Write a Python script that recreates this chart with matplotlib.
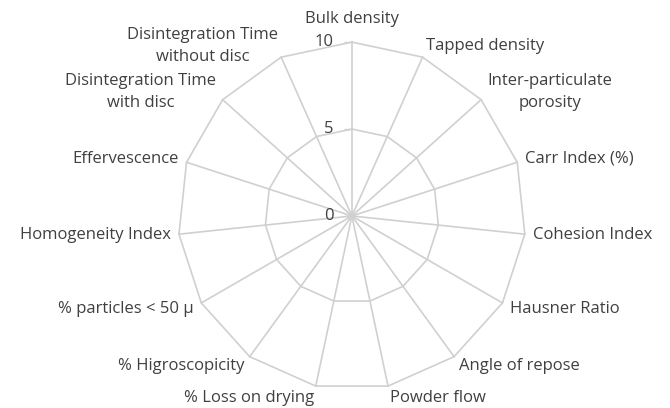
import numpy as np
import matplotlib
matplotlib.use("Agg")
from matplotlib import pyplot as plt

# radar chart, 15 parameters, series sits at 0
labels = ["Bulk density", "Tapped density", "Inter-particulate\nporosity", "Carr Index (%)",
          "Cohesion Index", "Hausner Ratio", "Angle of repose", "Powder flow",
          "% Loss on drying", "% Higroscopicity", "% particles < 50 µ", "Homogeneity Index",
          "Effervescence", "Disintegration Time\nwith disc", "Disintegration Time\nwithout disc"]
values = [0, 0, 0, 0, 0, 0, 0, 0, 0, 0, 0, 0, 0, 0, 0]
ticks = [0, 5, 10]

plt.rcParams['font.family'] = ['Open Sans', 'DejaVu Sans']
grid_c = "#d0d0d0"
text_c = "#404040"

n = len(labels)
theta = np.linspace(0, 2*np.pi, n, endpoint=False)

fig = plt.figure(figsize=(6.7, 4.08), dpi=100)
ax = fig.add_axes([0.2657, 0.0441, 0.519, 0.853], projection='polar')
ax.set_theta_offset(np.pi/2)
ax.set_theta_direction(-1)
ax.set_ylim(0, 10)
ax.axis('off')

closed = np.append(theta, theta[0])
for t in ticks[1:]:
    ax.plot(closed, [t]*(n+1), color=grid_c, lw=1.2, clip_on=False)
for a in theta:
    ax.plot([a, a], [0, ticks[-1]], color=grid_c, lw=1.2, clip_on=False)

ax.plot(closed, values + values[:1], color="#a6a6a6", lw=1.5, clip_on=False)

# value labels left of the top spoke
for t in ticks:
    ax.plot([0], [t], marker=0, ms=6, color=grid_c, mew=1, clip_on=False)
    ax.annotate(str(t), (0, t), xytext=(-13, 0), textcoords='offset points',
                ha='right', va='center', fontsize=12, color=text_c)

for a, lab in zip(theta, labels):
    s, c = np.sin(a), np.cos(a)
    if abs(s) < 0.05:
        ax.annotate(lab, (a, 10), xytext=(0, 17), textcoords='offset points',
                    ha='center', va='center', fontsize=12, color=text_c)
        continue
    ha = 'left' if s > 0 else 'right'
    ax.annotate(lab, (a, 10), xytext=(6*s, 8.5*c), textcoords='offset points',
                ha=ha, va='center', fontsize=12, color=text_c,
                multialignment='center', linespacing=1.5)

fig.savefig("out.png", dpi=100)
